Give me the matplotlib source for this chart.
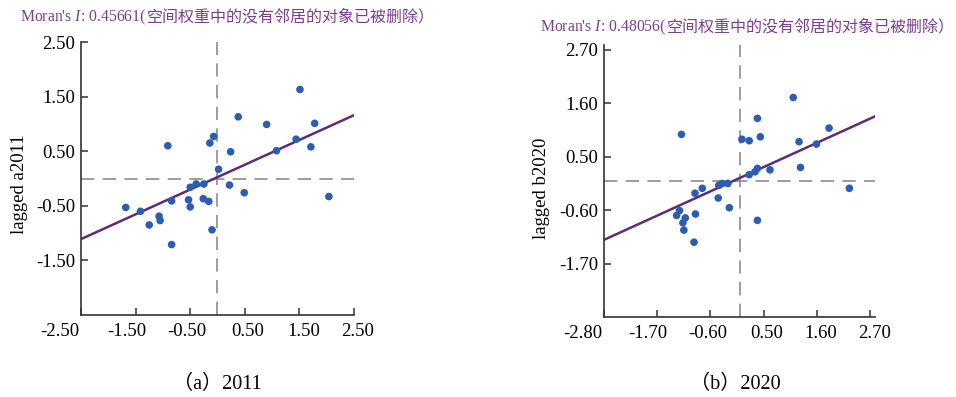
import numpy as np
import matplotlib
matplotlib.use('Agg')
from matplotlib import pyplot as plt
from matplotlib.transforms import ScaledTranslation

plt.rcParams['font.family'] = ['Liberation Serif', 'Noto Sans CJK SC']
plt.rcParams['mathtext.fontset'] = 'custom'
plt.rcParams['mathtext.rm'] = 'Liberation Serif'
plt.rcParams['mathtext.it'] = 'Liberation Serif:italic'

# standardised values (x) and spatial lag (y)
x_2011 = [-1.68, -1.41, -1.25, -1.07, -1.05, -0.84, -0.84, -0.91, -0.53, -0.50,
          -0.50, -0.39, -0.25, -0.26, -0.16, -0.10, -0.14, -0.07, 0.02, 0.22,
          0.24, 0.38, 0.49, 0.90, 1.08, 1.44, 1.51, 1.71, 1.78, 2.04]
y_2011 = [-0.53, -0.60, -0.85, -0.69, -0.77, -1.21, -0.41, 0.60, -0.39, -0.52,
          -0.16, -0.10, -0.10, -0.37, -0.42, -0.94, 0.65, 0.77, 0.17, -0.12,
          0.49, 1.13, -0.26, 0.99, 0.51, 0.72, 1.63, 0.58, 1.01, -0.33]

x_2020 = [-1.20, 1.11, 0.37, 0.05, 0.20, 0.43, 1.85, 1.23, 1.59, 1.26,
          0.63, 0.37, 0.32, 0.20, -0.24, -0.36, -0.43, -0.77, -0.92, -0.44,
          2.27, -1.24, -1.30, -1.12, -1.17, -1.15, -0.91, -0.94, -0.21, 0.37]
y_2020 = [0.96, 1.72, 1.29, 0.86, 0.83, 0.91, 1.09, 0.81, 0.76, 0.28,
          0.23, 0.26, 0.19, 0.13, -0.05, -0.05, -0.09, -0.15, -0.25, -0.35,
          -0.15, -0.61, -0.71, -0.76, -0.86, -1.01, -0.68, -1.26, -0.55, -0.81]

moran = ['0.45661', '0.48056']
note = '空间权重中的没有邻居的对象已被删除）'
fit_slope = [0.454, 0.454]
fit_icept = [0.025, 0.06]

ticks_a = [-2.5, -1.5, -0.5, 0.5, 1.5, 2.5]
ticks_b = [-2.8, -1.7, -0.6, 0.5, 1.6, 2.7]
ylabels = ['lagged a2011', 'lagged b2020']
captions = ['（a）2011', '（b）2020']

dot_col = '#2b5db2'
line_col = '#5e2b78'
title_col = '#7b3f8c'
dash_col = '#8c8c8c'

fig = plt.figure(figsize=(9.56, 3.97), dpi=100)
ax1 = fig.add_axes([0.0847, 0.2065, 0.2856, 0.6877])
ax2 = fig.add_axes([0.6318, 0.2015, 0.2835, 0.6851])

# label shifts (px) seen in the original x tick labels
xlab_shift = [-21, -9, -3, 3, 4, 4]

def panel(ax, xs, ys, ticks, lim, slope, icept, clip=True):
    ax.axhline(0, color=dash_col, lw=1.2, dashes=(8, 5), zorder=1)
    ax.axvline(0, color=dash_col, lw=1.2, dashes=(8, 5), zorder=1)
    lx = np.array(lim)
    ax.plot(lx, slope * lx + icept, color=line_col, lw=1.8, zorder=2, clip_on=clip)
    ax.scatter(xs, ys, s=30, color=dot_col, edgecolors='none', zorder=3)
    ax.set_xlim(lim)
    ax.set_ylim(lim)
    ax.set_xticks(ticks)
    ax.set_yticks(ticks[1:][::-1])
    ax.set_xticklabels([f'{t:.2f}' for t in ticks])
    ax.set_yticklabels([f'{t:.2f}' for t in ticks[1:][::-1]])
    for s in ['top', 'right']:
        ax.spines[s].set_visible(False)
    for s in ['left', 'bottom']:
        ax.spines[s].set_color('#333333')
        ax.spines[s].set_linewidth(1.2)
    ax.tick_params(direction='in', length=5, width=1.1, color='#333333',
                   labelsize=13.5, labelcolor='black')
    ax.tick_params(axis='x', pad=6)
    ax.tick_params(axis='y', pad=4)
    for lab, dx in zip(ax.get_xticklabels(), xlab_shift):
        lab.set_transform(lab.get_transform() +
                          ScaledTranslation(dx / 100, 0, fig.dpi_scale_trans))

panel(ax1, x_2011, y_2011, ticks_a, (-2.5, 2.5), fit_slope[0], fit_icept[0])
panel(ax2, x_2020, y_2020, ticks_b, (-2.8, 2.8), fit_slope[1], fit_icept[1])

W, H = 956, 397

def title(ax, x, y, value):
    # latin part with italic I, then the chinese note right after it
    t1 = fig.text(x / W, 1 - y / H, f"Moran's $I$: {value}(",
                  color=title_col, fontsize=11.3, ha='left', va='center')
    ax.annotate(note, xy=(1, 0.5), xycoords=t1, ha='left', va='center',
                color=title_col, fontsize=11.5, annotation_clip=False)

title(ax1, 20, 17, moran[0])
title(ax2, 540, 27, moran[1])

fig.text(20 / W, 1 - 184 / H, ylabels[0], rotation=90, fontsize=13.5, ha='center', va='center')
fig.text(541 / W, 1 - 188 / H, ylabels[1], rotation=90, fontsize=13.5, ha='center', va='center')

fig.text(217 / W, 1 - 384 / H, captions[0], fontsize=14.5, ha='center', va='center')
fig.text(735 / W, 1 - 384 / H, captions[1], fontsize=14.5, ha='center', va='center')

fig.savefig('out.png', dpi=100)
